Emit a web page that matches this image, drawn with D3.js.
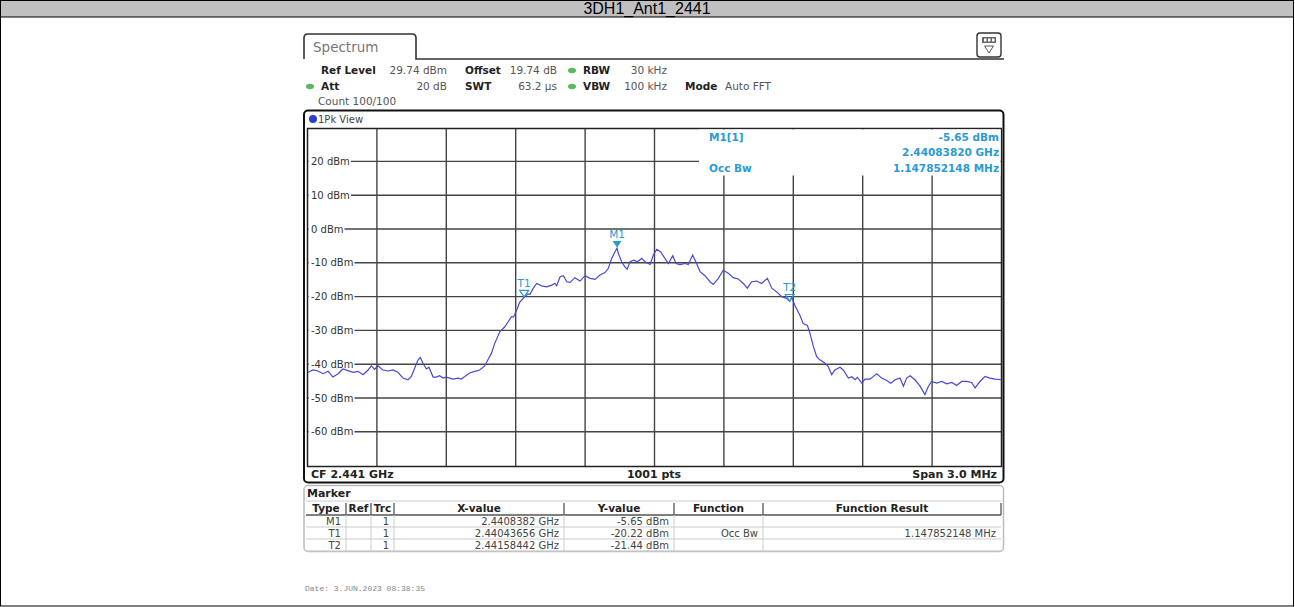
<!DOCTYPE html>
<html>
<head>
<meta charset="utf-8">
<script src="https://cdn.jsdelivr.net/npm/d3@7"></script>
<style>
body { margin: 0; background: #fff; }
svg { display: block; }
</style>
</head>
<body>
<svg width="1295" height="607"></svg>
<script>
// trace (MHz, dBm)
let freqMHz = [2439.500, 2439.511, 2439.524, 2439.545, 2439.567, 2439.589, 2439.610, 2439.632, 2439.653, 2439.675,
  2439.697, 2439.718, 2439.740, 2439.762, 2439.776, 2439.790, 2439.805, 2439.826, 2439.848, 2439.870,
  2439.891, 2439.913, 2439.934, 2439.949, 2439.963, 2439.978, 2439.988, 2439.999, 2440.014, 2440.025,
  2440.043, 2440.057, 2440.071, 2440.086, 2440.100, 2440.115, 2440.129, 2440.151, 2440.165, 2440.180,
  2440.201, 2440.223, 2440.244, 2440.266, 2440.280, 2440.295, 2440.309, 2440.331, 2440.352, 2440.367,
  2440.381, 2440.391, 2440.403, 2440.417, 2440.437, 2440.453, 2440.462, 2440.476, 2440.491, 2440.512,
  2440.534, 2440.556, 2440.570, 2440.577, 2440.592, 2440.606, 2440.621, 2440.635, 2440.656, 2440.678,
  2440.700, 2440.721, 2440.743, 2440.764, 2440.786, 2440.800, 2440.815, 2440.825, 2440.838, 2440.844,
  2440.858, 2440.872, 2440.882, 2440.894, 2440.911, 2440.926, 2440.945, 2440.959, 2440.981, 2440.995,
  2441.010, 2441.027, 2441.045, 2441.060, 2441.079, 2441.093, 2441.110, 2441.132, 2441.146, 2441.165,
  2441.182, 2441.197, 2441.218, 2441.240, 2441.254, 2441.276, 2441.297, 2441.319, 2441.341, 2441.362,
  2441.384, 2441.401, 2441.420, 2441.442, 2441.463, 2441.488, 2441.507, 2441.528, 2441.550, 2441.572,
  2441.584, 2441.593, 2441.607, 2441.629, 2441.643, 2441.661, 2441.672, 2441.687, 2441.701, 2441.715,
  2441.737, 2441.751, 2441.766, 2441.780, 2441.802, 2441.816, 2441.838, 2441.853, 2441.867, 2441.877,
  2441.896, 2441.910, 2441.932, 2441.946, 2441.961, 2441.982, 2442.004, 2442.021, 2442.040, 2442.061,
  2442.076, 2442.090, 2442.105, 2442.126, 2442.148, 2442.169, 2442.184, 2442.198, 2442.220, 2442.242,
  2442.263, 2442.285, 2442.306, 2442.328, 2442.350, 2442.371, 2442.386, 2442.407, 2442.429, 2442.450,
  2442.472, 2442.500];
let levelDbm = [-42.5, -42.1, -41.7, -42.0, -42.8, -42.1, -43.8, -42.8, -41.4, -41.9,
  -42.4, -42.1, -43.1, -41.7, -40.5, -41.5, -40.5, -41.7, -42.0, -41.7,
  -42.4, -44.1, -44.6, -43.6, -41.2, -38.7, -38.0, -39.7, -41.4, -40.9,
  -43.8, -43.8, -43.4, -44.1, -43.8, -44.1, -44.4, -44.1, -44.4, -43.6,
  -42.6, -42.1, -41.7, -40.5, -38.7, -36.8, -33.9, -30.4, -29.0, -27.5,
  -26.0, -26.0, -24.2, -21.7, -20.2, -19.2, -19.3, -17.5, -16.1, -16.8,
  -17.1, -16.6, -16.1, -16.8, -14.1, -13.8, -15.6, -15.8, -14.4, -15.4,
  -13.8, -14.6, -14.9, -13.6, -12.9, -11.7, -8.7, -7.3, -5.65, -7.3,
  -9.7, -11.2, -11.9, -9.7, -9.2, -9.7, -8.7, -9.7, -10.5, -7.7,
  -6.0, -6.8, -8.7, -10.2, -7.9, -10.2, -10.5, -10.2, -10.5, -7.7,
  -10.2, -12.6, -13.8, -15.6, -16.4, -14.6, -12.2, -13.1, -14.4, -14.8,
  -16.1, -17.5, -15.6, -15.4, -16.1, -14.6, -17.5, -18.6, -20.0, -20.5,
  -21.44, -20.2, -22.6, -25.6, -28.0, -28.5, -30.9, -34.8, -37.8, -38.7,
  -39.7, -40.7, -43.1, -41.7, -40.9, -41.7, -44.1, -43.7, -44.6, -43.9,
  -45.6, -44.4, -44.4, -43.6, -42.8, -44.1, -44.8, -45.6, -44.6, -44.1,
  -46.5, -44.1, -43.4, -44.6, -46.5, -49.0, -46.5, -45.1, -45.6, -45.1,
  -45.8, -45.4, -46.3, -45.1, -45.1, -45.4, -47.0, -45.1, -43.6, -44.1,
  -44.4, -44.6];

let yTicks = [20, 10, 0, -10, -20, -30, -40, -50, -60];

let markerNames = ["M1", "T1", "T2"];
let markerFreq = [2440.8382, 2440.43656, 2441.58442];
let markerLevel = [-5.65, -20.22, -21.44];

let tableHeads = ["Type", "Ref", "Trc", "X-value", "Y-value", "Function", "Function Result"];
let tableType = ["M1", "T1", "T2"];
let tableTrc = ["1", "1", "1"];
let tableX = ["2.4408382 GHz", "2.44043656 GHz", "2.44158442 GHz"];
let tableY = ["-5.65 dBm", "-20.22 dBm", "-21.44 dBm"];
let tableFunc = ["", "Occ Bw", ""];
let tableResult = ["", "1.147852148 MHz", ""];
let colEdges = [306, 346, 371, 394, 564, 674, 763, 1001];

let svg = d3.select("svg");
let F = "DejaVu Sans";

function label(g, x, y, s, o) {
    o = o || {};
    return g.append("text").attr("x", x).attr("y", y)
        .attr("font-family", o.ff || F).attr("font-size", o.fs || 10)
        .attr("font-weight", o.fw || "normal").attr("fill", o.fill || "#333")
        .attr("text-anchor", o.anchor || "start").text(s);
}

// page frame and title bar
svg.append("rect").attr("x", 0.5).attr("y", 0.5).attr("width", 1293).attr("height", 605.5)
    .attr("fill", "#fff").attr("stroke", "#000");
svg.append("rect").attr("x", 0.5).attr("y", 0.5).attr("width", 1293).attr("height", 16.5)
    .attr("fill", "#c0c0c0").attr("stroke", "#000");
label(svg, 647, 14, "3DH1_Ant1_2441", {ff: "Liberation Sans", fs: 16, fill: "#000", anchor: "middle"});

// spectrum tab + icon
svg.append("path").attr("d", "M304,59 L304,38 Q304,34 308,34 L412,34 Q416,34 416,38 L416,59 L1004,59")
    .attr("fill", "none").attr("stroke", "#333").attr("stroke-width", 1.6);
label(svg, 313, 52, "Spectrum", {fs: 13.5, fill: "#777"});
svg.append("rect").attr("x", 977).attr("y", 33).attr("width", 24).attr("height", 24).attr("rx", 3)
    .attr("fill", "#fff").attr("stroke", "#333").attr("stroke-width", 1.4);
svg.append("rect").attr("x", 982).attr("y", 37).attr("width", 14).attr("height", 6).attr("fill", "#666");
[984, 988, 992].forEach(function(px){
    svg.append("rect").attr("x", px).attr("y", 38.5).attr("width", 2.5).attr("height", 3).attr("fill", "#fff");
});
svg.append("path").attr("d", "M984.5,46 L993.5,46 L989,53 Z").attr("fill", "none").attr("stroke", "#555");

// settings block
let hdr = svg.append("g");
function dot(cx, cy) {
    hdr.append("ellipse").attr("cx", cx).attr("cy", cy).attr("rx", 4).attr("ry", 2.8).attr("fill", "#5cb85c");
}
label(hdr, 321, 74, "Ref Level", {fs: 10.5, fw: "bold", fill: "#222"});
label(hdr, 447, 74, "29.74 dBm", {fs: 10.5, anchor: "end", fill: "#555"});
label(hdr, 465, 74, "Offset", {fs: 10.5, fw: "bold", fill: "#222"});
label(hdr, 557, 74, "19.74 dB", {fs: 10.5, anchor: "end", fill: "#555"});
dot(572, 70.5);
label(hdr, 583, 74, "RBW", {fs: 10.5, fw: "bold", fill: "#222"});
label(hdr, 667, 74, "30 kHz", {fs: 10.5, anchor: "end", fill: "#555"});
dot(310, 86.5);
label(hdr, 321, 90, "Att", {fs: 10.5, fw: "bold", fill: "#222"});
label(hdr, 447, 90, "20 dB", {fs: 10.5, anchor: "end", fill: "#555"});
label(hdr, 465, 90, "SWT", {fs: 10.5, fw: "bold", fill: "#222"});
label(hdr, 557, 90, "63.2 \u00b5s", {fs: 10.5, anchor: "end", fill: "#555"});
dot(572, 86.5);
label(hdr, 583, 90, "VBW", {fs: 10.5, fw: "bold", fill: "#222"});
label(hdr, 667, 90, "100 kHz", {fs: 10.5, anchor: "end", fill: "#555"});
label(hdr, 685, 90, "Mode", {fs: 10.5, fw: "bold", fill: "#222"});
label(hdr, 725, 90, "Auto FFT", {fs: 10.5, fill: "#555"});
label(hdr, 318, 105, "Count 100/100", {fs: 10.5, fill: "#555"});

// plot box
let x = d3.scaleLinear().domain([2439.5, 2442.5]).range([307.5, 1001.5]);
let y = d3.scaleLinear().domain([-70.26, 29.74]).range([466.5, 128.5]);

svg.append("rect").attr("x", 304).attr("y", 110.5).attr("width", 699.5).attr("height", 372)
    .attr("rx", 4).attr("fill", "#fff").attr("stroke", "#111").attr("stroke-width", 2);
svg.append("circle").attr("cx", 313).attr("cy", 119).attr("r", 4).attr("fill", "#2a3fd0");
label(svg, 318, 123, "1Pk View", {fs: 10, fill: "#444"});

let plot = svg.append("g");
let vlines = d3.range(1, 10).map(function(i){ return 2439.5 + i * 0.3; });
plot.selectAll(".vg").data(vlines).enter().append("line")
    .attr("x1", function(d){ return x(d); }).attr("x2", function(d){ return x(d); })
    .attr("y1", y(29.74)).attr("y2", y(-70.26))
    .attr("stroke", "#444").attr("stroke-width", 1.4);
plot.selectAll(".hg").data(yTicks).enter().append("line")
    .attr("x1", x(2439.5)).attr("x2", x(2442.5))
    .attr("y1", function(d){ return y(d); }).attr("y2", function(d){ return y(d); })
    .attr("stroke", "#444").attr("stroke-width", 1.4);

// y labels sit on a white patch that hides the grid line under them
yTicks.forEach(function(v){
    let t = label(plot, 311, y(v) + 3.5, v + " dBm", {fs: 10, fill: "#333"});
    let b = t.node().getBBox();
    plot.insert("rect", function(){ return t.node(); })
        .attr("x", 308.5).attr("y", y(v) - 2).attr("width", b.x + b.width - 308.5 + 1).attr("height", 4).attr("fill", "#fff");
});

// frame of the grid
plot.append("rect").attr("x", x(2439.5)).attr("y", y(29.74))
    .attr("width", x(2442.5) - x(2439.5)).attr("height", y(-70.26) - y(29.74))
    .attr("fill", "none").attr("stroke", "#222").attr("stroke-width", 1.5);

// trace
svg.append("clipPath").attr("id", "pc").append("rect")
    .attr("x", x(2439.5)).attr("y", y(29.74))
    .attr("width", x(2442.5) - x(2439.5)).attr("height", y(-70.26) - y(29.74));
let line = d3.line().x(function(d){ return x(d[0]); }).y(function(d){ return y(d[1]); });
svg.append("path").datum(d3.zip(freqMHz, levelDbm)).attr("d", line)
    .attr("clip-path", "url(#pc)").attr("fill", "none")
    .attr("stroke", "#4848d8").attr("stroke-width", 1.2);

// marker info box (covers the grid)
let mk = "#2a9ad4";
svg.append("rect").attr("x", 699).attr("y", y(29.74) + 1).attr("width", x(2442.5) - 699 - 1).attr("height", 46).attr("fill", "#fff");
label(svg, 709, 141, "M1[1]", {fs: 10.5, fw: "bold", fill: mk});
label(svg, 999, 141, "-5.65 dBm", {fs: 10.5, fw: "bold", fill: mk, anchor: "end"});
label(svg, 999, 156, "2.44083820 GHz", {fs: 10.5, fw: "bold", fill: mk, anchor: "end"});
label(svg, 709, 172, "Occ Bw", {fs: 10.5, fw: "bold", fill: mk});
label(svg, 999, 172, "1.147852148 MHz", {fs: 10.5, fw: "bold", fill: mk, anchor: "end"});

// markers on the trace
markerNames.forEach(function(n, i){
    let mx = x(markerFreq[i]), my = y(markerLevel[i]);
    let tri = svg.append("path").attr("d", "M" + (mx - 4.5) + "," + (my - 7) + " L" + (mx + 4.5) + "," + (my - 7) + " L" + mx + "," + (my - 0.5) + " Z");
    if (i == 0) tri.attr("fill", mk);
    else tri.attr("fill", "none").attr("stroke", mk).attr("stroke-width", 1.2);
    label(svg, mx, my - 10, n, {fs: 10.5, fill: mk, anchor: "middle"});
});

// bottom bar
label(svg, 311, 478, "CF 2.441 GHz", {fs: 11, fw: "bold", fill: "#222"});
label(svg, 654, 478, "1001 pts", {fs: 11, fw: "bold", fill: "#222", anchor: "middle"});
label(svg, 997, 478, "Span 3.0 MHz", {fs: 11, fw: "bold", fill: "#222", anchor: "end"});

// marker table
svg.append("rect").attr("x", 304).attr("y", 485.5).attr("width", 699.5).attr("height", 66)
    .attr("rx", 4).attr("fill", "#fff").attr("stroke", "#bbb").attr("stroke-width", 1.5);
label(svg, 307, 497, "Marker", {fs: 11, fw: "bold", fill: "#222"});
let tTop = 501, hH = 14, rH = 12;
let tbl = svg.append("g");
tbl.append("line").attr("x1", colEdges[0]).attr("x2", colEdges[7]).attr("y1", tTop).attr("y2", tTop).attr("stroke", "#ccc");
tbl.append("line").attr("x1", colEdges[0]).attr("x2", colEdges[7]).attr("y1", tTop + hH).attr("y2", tTop + hH).attr("stroke", "#555").attr("stroke-width", 1.3);
tableHeads.forEach(function(h, i){
    label(tbl, (colEdges[i] + colEdges[i + 1]) / 2, tTop + 11, h, {fs: 10.5, fw: "bold", fill: "#222", anchor: "middle"});
    if (i > 0) tbl.append("line").attr("x1", colEdges[i]).attr("x2", colEdges[i]).attr("y1", tTop + 2).attr("y2", tTop + hH)
        .attr("stroke", "#555").attr("stroke-width", 1.3);
});
tbl.append("line").attr("x1", colEdges[7]).attr("x2", colEdges[7]).attr("y1", tTop + 2).attr("y2", tTop + hH).attr("stroke", "#555").attr("stroke-width", 1.3);
tableType.forEach(function(t, r){
    let ry = tTop + hH + r * rH;
    tbl.append("line").attr("x1", colEdges[0]).attr("x2", colEdges[7]).attr("y1", ry + rH).attr("y2", ry + rH).attr("stroke", "#ccc");
    colEdges.slice(1, 7).forEach(function(cx){
        tbl.append("line").attr("x1", cx).attr("x2", cx).attr("y1", ry).attr("y2", ry + rH).attr("stroke", "#ccc");
    });
    let by = ry + 9.5;
    let vals = [t, "", tableTrc[r], tableX[r], tableY[r], tableFunc[r], tableResult[r]];
    vals.forEach(function(v, c){
        if (v) label(tbl, colEdges[c + 1] - 5, by, v, {fs: 10, fill: "#444", anchor: "end"});
    });
});

// date line under the screen
label(svg, 305, 591, "Date: 3.JUN.2023  08:38:35", {ff: "Liberation Mono", fs: 8, fill: "#888"});
</script>
</body>
</html>
